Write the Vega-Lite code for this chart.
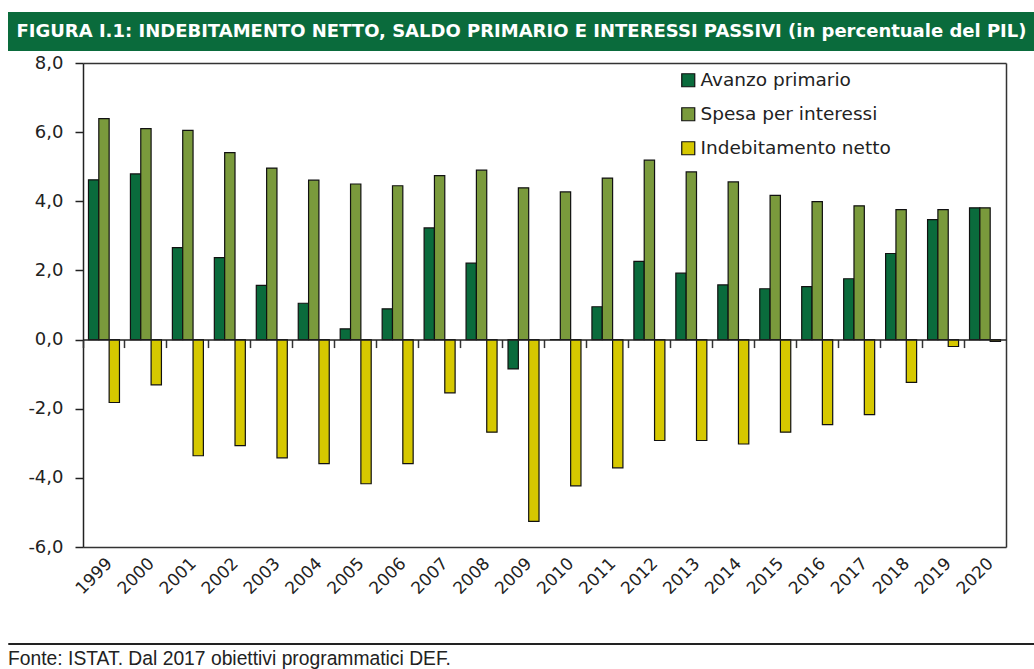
{
  "$schema": "https://vega.github.io/schema/vega-lite/v6.json",
  "padding": {"left": 7, "top": 12, "right": 0, "bottom": 0},
  "background": "white",
  "spacing": 3,
  "config": {"view": {"stroke": null}},
  "vconcat": [
    {
      "width": 1027,
      "height": 39,
      "view": {"fill": "#0a6b3c", "stroke": null},
      "data": {"values": [{"t": "FIGURA I.1: INDEBITAMENTO NETTO, SALDO PRIMARIO E INTERESSI PASSIVI (in percentuale del PIL)"}]},
      "mark": {"type": "text", "color": "white", "font": "DejaVu Sans", "fontWeight": "bold", "fontSize": 18, "align": "center", "baseline": "middle"},
      "encoding": {"text": {"field": "t"}}
    },
    {
      "spacing": 40,
      "vconcat": [
        {
          "width": 998,
          "height": 484,
          "view": {"stroke": null, "fill": "white"},
          "data": {"values": [
            {"anno": "1999", "serie": "Avanzo primario", "valore": 4.62},
            {"anno": "1999", "serie": "Spesa per interessi", "valore": 6.39},
            {"anno": "1999", "serie": "Indebitamento netto", "valore": -1.82},
            {"anno": "2000", "serie": "Avanzo primario", "valore": 4.79},
            {"anno": "2000", "serie": "Spesa per interessi", "valore": 6.10},
            {"anno": "2000", "serie": "Indebitamento netto", "valore": -1.31},
            {"anno": "2001", "serie": "Avanzo primario", "valore": 2.66},
            {"anno": "2001", "serie": "Spesa per interessi", "valore": 6.05},
            {"anno": "2001", "serie": "Indebitamento netto", "valore": -3.36},
            {"anno": "2002", "serie": "Avanzo primario", "valore": 2.37},
            {"anno": "2002", "serie": "Spesa per interessi", "valore": 5.41},
            {"anno": "2002", "serie": "Indebitamento netto", "valore": -3.07},
            {"anno": "2003", "serie": "Avanzo primario", "valore": 1.57},
            {"anno": "2003", "serie": "Spesa per interessi", "valore": 4.96},
            {"anno": "2003", "serie": "Indebitamento netto", "valore": -3.42},
            {"anno": "2004", "serie": "Avanzo primario", "valore": 1.05},
            {"anno": "2004", "serie": "Spesa per interessi", "valore": 4.61},
            {"anno": "2004", "serie": "Indebitamento netto", "valore": -3.59},
            {"anno": "2005", "serie": "Avanzo primario", "valore": 0.31},
            {"anno": "2005", "serie": "Spesa per interessi", "valore": 4.50},
            {"anno": "2005", "serie": "Indebitamento netto", "valore": -4.17},
            {"anno": "2006", "serie": "Avanzo primario", "valore": 0.89},
            {"anno": "2006", "serie": "Spesa per interessi", "valore": 4.45},
            {"anno": "2006", "serie": "Indebitamento netto", "valore": -3.59},
            {"anno": "2007", "serie": "Avanzo primario", "valore": 3.23},
            {"anno": "2007", "serie": "Spesa per interessi", "valore": 4.74},
            {"anno": "2007", "serie": "Indebitamento netto", "valore": -1.54},
            {"anno": "2008", "serie": "Avanzo primario", "valore": 2.21},
            {"anno": "2008", "serie": "Spesa per interessi", "valore": 4.90},
            {"anno": "2008", "serie": "Indebitamento netto", "valore": -2.68},
            {"anno": "2009", "serie": "Avanzo primario", "valore": -0.85},
            {"anno": "2009", "serie": "Spesa per interessi", "valore": 4.39},
            {"anno": "2009", "serie": "Indebitamento netto", "valore": -5.26},
            {"anno": "2010", "serie": "Avanzo primario", "valore": 0.0},
            {"anno": "2010", "serie": "Spesa per interessi", "valore": 4.27},
            {"anno": "2010", "serie": "Indebitamento netto", "valore": -4.23},
            {"anno": "2011", "serie": "Avanzo primario", "valore": 0.95},
            {"anno": "2011", "serie": "Spesa per interessi", "valore": 4.67},
            {"anno": "2011", "serie": "Indebitamento netto", "valore": -3.71},
            {"anno": "2012", "serie": "Avanzo primario", "valore": 2.26},
            {"anno": "2012", "serie": "Spesa per interessi", "valore": 5.19},
            {"anno": "2012", "serie": "Indebitamento netto", "valore": -2.92},
            {"anno": "2013", "serie": "Avanzo primario", "valore": 1.92},
            {"anno": "2013", "serie": "Spesa per interessi", "valore": 4.85},
            {"anno": "2013", "serie": "Indebitamento netto", "valore": -2.92},
            {"anno": "2014", "serie": "Avanzo primario", "valore": 1.58},
            {"anno": "2014", "serie": "Spesa per interessi", "valore": 4.56},
            {"anno": "2014", "serie": "Indebitamento netto", "valore": -3.02},
            {"anno": "2015", "serie": "Avanzo primario", "valore": 1.47},
            {"anno": "2015", "serie": "Spesa per interessi", "valore": 4.17},
            {"anno": "2015", "serie": "Indebitamento netto", "valore": -2.68},
            {"anno": "2016", "serie": "Avanzo primario", "valore": 1.53},
            {"anno": "2016", "serie": "Spesa per interessi", "valore": 3.99},
            {"anno": "2016", "serie": "Indebitamento netto", "valore": -2.46},
            {"anno": "2017", "serie": "Avanzo primario", "valore": 1.76},
            {"anno": "2017", "serie": "Spesa per interessi", "valore": 3.87},
            {"anno": "2017", "serie": "Indebitamento netto", "valore": -2.17},
            {"anno": "2018", "serie": "Avanzo primario", "valore": 2.49},
            {"anno": "2018", "serie": "Spesa per interessi", "valore": 3.76},
            {"anno": "2018", "serie": "Indebitamento netto", "valore": -1.24},
            {"anno": "2019", "serie": "Avanzo primario", "valore": 3.47},
            {"anno": "2019", "serie": "Spesa per interessi", "valore": 3.76},
            {"anno": "2019", "serie": "Indebitamento netto", "valore": -0.20},
            {"anno": "2020", "serie": "Avanzo primario", "valore": 3.81},
            {"anno": "2020", "serie": "Spesa per interessi", "valore": 3.81},
            {"anno": "2020", "serie": "Indebitamento netto", "valore": -0.05}
          ]},
          "layer": [
            {
              "mark": {"type": "bar", "stroke": "#111", "strokeWidth": 1.2},
              "encoding": {
                "x": {
                  "field": "anno", "type": "ordinal",
                  "scale": {"range": [75, 998], "paddingInner": 0, "paddingOuter": 0},
                  "axis": {
                    "orient": "bottom", "title": null, "domain": true, "domainColor": "#333", "domainWidth": 1.5,
                    "ticks": false, "grid": false,
                    "labelAngle": -45, "labelAlign": "right", "labelBaseline": "top", "labelPadding": 8,
                    "labelFont": "DejaVu Sans", "labelFontSize": 17, "labelColor": "#222"
                  }
                },
                "y": {
                  "field": "valore", "type": "quantitative",
                  "scale": {"domain": [-6, 8], "nice": false},
                  "axis": {
                    "orient": "left", "offset": -75,
                    "title": null, "grid": false, "values": [-6, -4, -2, 0, 2, 4, 6, 8],
                    "labelExpr": "(datum.value < 0 ? '-' : '') + replace(format(abs(datum.value), '.1f'), '.', ',')",
                    "labelFont": "DejaVu Sans", "labelFontSize": 18, "labelColor": "#222", "labelPadding": 12,
                    "domainColor": "#222", "domainWidth": 1.5, "tickColor": "#222", "tickWidth": 1.5, "tickSize": 8
                  }
                },
                "xOffset": {
                  "field": "serie", "type": "nominal",
                  "sort": ["Avanzo primario", "Spesa per interessi", "Indebitamento netto"],
                  "scale": {"paddingInner": 0, "paddingOuter": 0.53}
                },
                "color": {
                  "field": "serie", "type": "nominal",
                  "scale": {
                    "domain": ["Avanzo primario", "Spesa per interessi", "Indebitamento netto"],
                    "range": ["#0a6b3c", "#7a9a3c", "#d6c800"]
                  },
                  "legend": {
                    "orient": "none", "legendX": 671, "legendY": 59, "title": null, "padding": 0,
                    "symbolType": "square", "symbolSize": 169, "symbolStrokeColor": "#111", "symbolStrokeWidth": 1.2,
                    "labelFont": "DejaVu Sans", "labelFontSize": 18.5, "labelColor": "#222", "labelLimit": 0,
                    "rowPadding": 15, "labelOffset": 3
                  }
                }
              }
            },
            {
              "mark": {"type": "point", "opacity": 0},
              "encoding": {
                "x": {
                  "field": "anno", "type": "ordinal",
                  "axis": {
                    "orient": "bottom", "offset": -207.43, "title": null, "labels": false, "grid": false,
                    "domain": true, "domainColor": "#222", "domainWidth": 1.5,
                    "ticks": true, "tickColor": "#333", "tickWidth": 1.5, "tickSize": 8, "bandPosition": 0,
                    "zindex": 1
                  }
                },
                "y": {
                  "field": "valore", "type": "quantitative",
                  "axis": {
                    "orient": "right", "title": null, "labels": false, "ticks": false, "grid": false,
                    "domain": true, "domainColor": "#333", "domainWidth": 1.5
                  }
                }
              }
            },
            {
              "mark": {"type": "point", "opacity": 0},
              "encoding": {
                "x": {
                  "field": "anno", "type": "ordinal",
                  "axis": {
                    "orient": "top", "title": null, "labels": false, "ticks": false, "grid": false,
                    "domain": true, "domainColor": "#333", "domainWidth": 1.5
                  }
                }
              }
            }
          ],
          "resolve": {"axis": {"x": "independent", "y": "independent"}}
        },
        {
          "width": 1027,
          "height": 1,
          "view": {"stroke": "#222", "strokeWidth": 1, "fill": null},
          "data": {"values": [{"t": ""}]},
          "mark": {"type": "text"},
          "encoding": {"text": {"field": "t"}},
          "title": {
            "text": "Fonte: ISTAT. Dal 2017 obiettivi programmatici DEF.",
            "orient": "bottom", "anchor": "start", "font": "Liberation Sans", "fontSize": 19.3,
            "fontWeight": "normal", "color": "#222", "offset": 1
          }
        }
      ]
    }
  ]
}
